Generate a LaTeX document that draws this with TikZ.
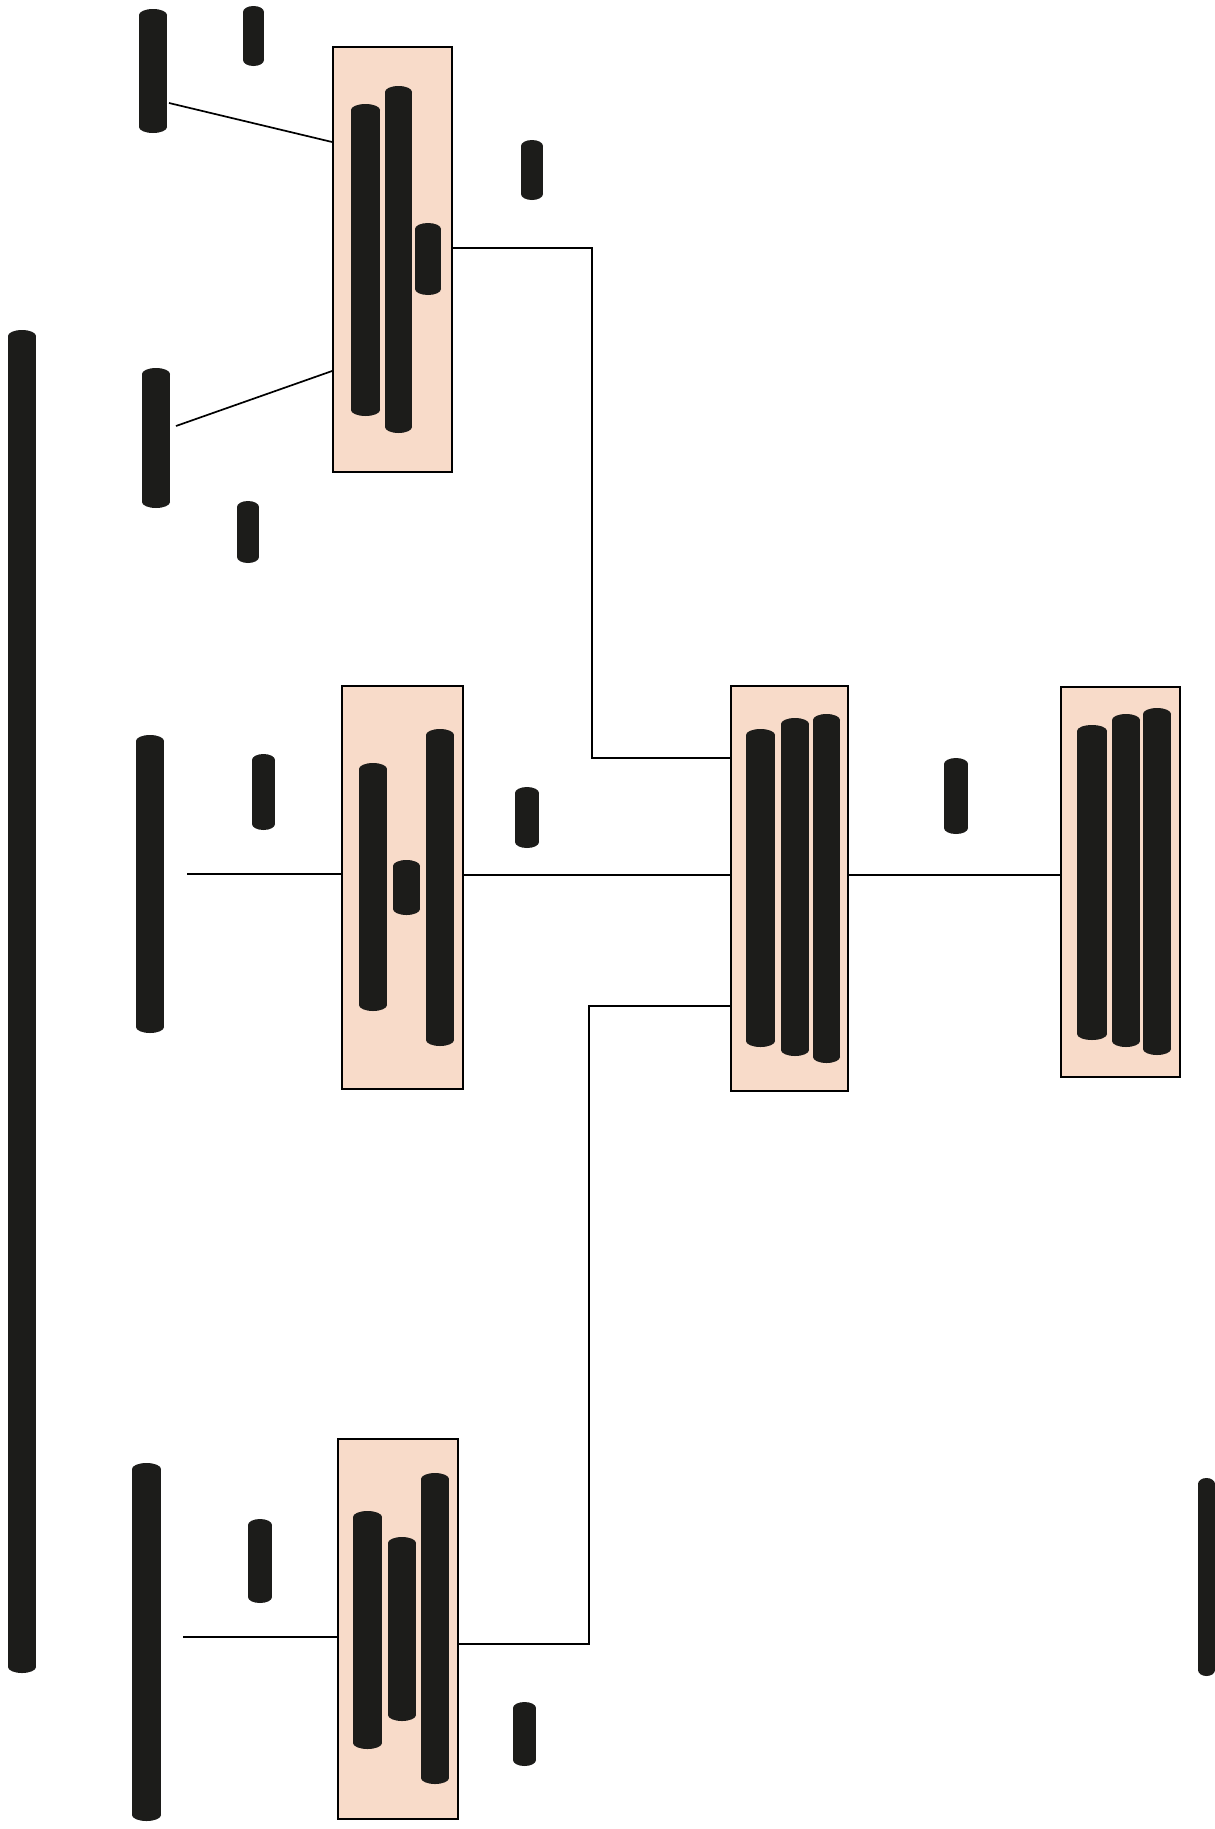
\documentclass[tikz,border=0pt]{standalone}
\usetikzlibrary{fit}
\definecolor{barc}{RGB}{28,28,26}
\definecolor{boxc}{RGB}{248,219,201}
\newcommand\cyl[4]{\fill[barc] (#1,#2+6) rectangle (#3,#4-6);
  \fill[barc] ({(#1+#3)/2},#2+6) ellipse [x radius={(#3-#1)/2}, y radius=6];
  \fill[barc] ({(#1+#3)/2},#4-6) ellipse [x radius={(#3-#1)/2}, y radius=6];}
\tikzset{
  boxst/.style={draw=black, line width=1.8pt, fill=boxc, inner sep=0pt},
  conn/.style={draw=black, line width=1.7pt}
}
\begin{document}
\begin{tikzpicture}[x=1pt,y=1pt,yscale=-1]
\useasboundingbox[fill=white] (0,0) rectangle (1215,1829);
% boxes
\node[boxst, fit={(333,47) (452,472)}] (b1) {};
\node[boxst, fit={(342,686) (463,1089)}] (b2) {};
\node[boxst, fit={(731,686) (848,1091)}] (b3) {};
\node[boxst, fit={(1061,687) (1180,1077)}] (b4) {};
\node[boxst, fit={(338,1439) (458,1819)}] (b5) {};
% free-end coordinates
\coordinate (pA) at (169,103);
\coordinate (pD) at (176,426);
\coordinate (pF) at (187,874);
\coordinate (pJ) at (183,1637);
\coordinate (j1) at (592,248);
\coordinate (j2) at (589,1006);
% connectors
\draw[conn] (pA) -- (b1.west |- 0,142);
\draw[conn] (pD) -- (b1.west |- 0,371);
\draw[conn] (b1.east |- j1) -- (j1) |- (b3.west |- 0,758);
\draw[conn] (pF) -- (b2.west |- pF);
\draw[conn] (b2.east |- 0,875) -- (b3.west |- 0,875);
\draw[conn] (b3.east |- 0,875) -- (b4.west |- 0,875);
\draw[conn] (b3.west |- j2) -- (j2) |- (b5.east |- 0,1644);
\draw[conn] (pJ) -- (b5.west |- pJ);
% free bars
\cyl{8}{330}{36}{1673}
\cyl{139}{9}{167}{133}
\cyl{243}{6}{264}{66}
\cyl{521}{140}{543}{200}
\cyl{142}{368}{170}{508}
\cyl{237}{501}{259}{563}
\cyl{136}{735}{164}{1033}
\cyl{252}{754}{275}{830}
\cyl{515}{787}{539}{848}
\cyl{944}{758}{968}{834}
\cyl{132}{1463}{161}{1821}
\cyl{248}{1519}{272}{1603}
\cyl{513}{1702}{536}{1766}
\cyl{1198}{1478}{1215}{1676}
% bars in box 1
\cyl{351}{104}{380}{416}
\cyl{385}{86}{412}{433}
\cyl{415}{223}{441}{295}
% bars in box 2
\cyl{359}{763}{387}{1011}
\cyl{393}{860}{420}{915}
\cyl{426}{729}{454}{1046}
% bars in box 3
\cyl{746}{729}{775}{1047}
\cyl{781}{718}{809}{1056}
\cyl{813}{714}{840}{1063}
% bars in box 4
\cyl{1077}{725}{1107}{1040}
\cyl{1112}{714}{1140}{1047}
\cyl{1143}{708}{1171}{1055}
% bars in box 5
\cyl{353}{1511}{382}{1749}
\cyl{388}{1537}{416}{1721}
\cyl{421}{1473}{449}{1784}
\end{tikzpicture}
\end{document}
